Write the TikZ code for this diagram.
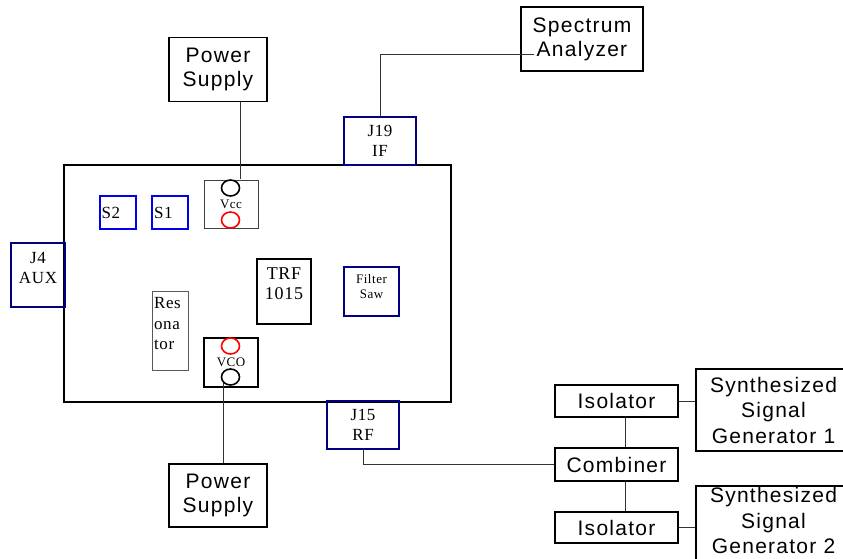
\documentclass[tikz,border=0pt]{standalone}
\usepackage{fontspec}
\setmainfont[LetterSpace=4]{Liberation Serif}
\setsansfont[LetterSpace=6]{Liberation Sans}
\usetikzlibrary{shapes.geometric}
\definecolor{jacknavy}{RGB}{0,0,128}
\definecolor{switchblue}{RGB}{0,0,235}

\begin{document}
\begin{tikzpicture}[x=1pt, y=-1pt]
    % Set up styles for boxes and wires
    \tikzstyle{instrument} = [draw, line width=1.2pt, inner sep=0pt, align=center,
        font=\sffamily\fontsize{21}{24}\selectfont]
    \tikzstyle{jack} = [draw=jacknavy, line width=2pt, inner sep=0pt, align=center,
        font=\fontsize{17}{20}\selectfont]
    \tikzstyle{switchbox} = [draw=switchblue, line width=2pt, inner xsep=2pt, inner ysep=0pt,
        text width=32pt, align=left, minimum height=33pt, font=\fontsize{17}{20}\selectfont]
    \tikzstyle{chip} = [draw, line width=2pt, inner sep=0pt, align=center]
    \tikzstyle{hole} = [draw, ellipse, line width=1.6pt, inner sep=0pt,
        minimum width=18pt, minimum height=16pt]
    \tikzstyle{wire} = [draw=black!80, line width=0.8pt]

    \useasboundingbox (0,0) rectangle (843,558);

    % The board
    \node[draw, line width=1.8pt, minimum width=387pt, minimum height=237pt] (board) at (257.5,283.5) {};

    % Parts on the board
    \node[switchbox] (stwo) at (117.5,212.5) {S2};
    \node[switchbox] (sone) at (170,212.5) {S1};
    \node[draw=black!65, line width=0.8pt, inner xsep=2pt, inner ysep=0pt, text width=32pt,
        align=left, minimum height=79pt, text depth=55pt,
        font=\fontsize{17}{20.5}\selectfont] (reson) at (170,330.5) {Res\\ona\\tor};
    \node[draw=black!75, line width=0.8pt, minimum width=54pt, minimum height=48pt,
        inner sep=0pt, font=\fontsize{13}{15}\selectfont] (vcc) at (231,204) {Vcc};
    \node[hole] (vcctop) at (230.5,188) {};
    \node[hole, draw=red] (vccbot) at (230.5,220) {};
    \node[chip, minimum width=54pt, minimum height=49pt,
        font=\fontsize{13}{15}\selectfont] (vco) at (231,362.5) {VCO};
    \node[hole, draw=red] (vcotop) at (230.5,346) {};
    \node[hole] (vcobot) at (230.5,377) {};
    \node[chip, minimum width=54pt, minimum height=65pt, text depth=16pt,
        font=\fontsize{18}{20}\selectfont] (trf) at (284,291.5) {TRF\\1015};
    \node[jack, minimum width=55pt, minimum height=49pt, text depth=10pt,
        font=\fontsize{13}{15}\selectfont] (saw) at (371.5,291.5) {Filter\\Saw};

    % Jacks on the edge of the board
    \node[jack, minimum width=54pt, minimum height=64pt, text depth=15pt] (jaux) at (38,275) {J4\\AUX};
    \node[jack, minimum width=72pt, minimum height=48pt] (jif) at (380,141) {J19\\IF};
    \node[jack, minimum width=72pt, minimum height=48pt] (jrf) at (363,425) {J15\\RF};

    % Instruments
    \node[instrument, minimum width=98pt, minimum height=64pt] (supplytop) at (218,69.5) {Power\\Supply};
    \node[instrument, minimum width=98pt, minimum height=63pt] (supplybot) at (218,495.5) {Power\\Supply};
    \node[instrument, minimum width=122pt, minimum height=64pt] (analyzer) at (582,39) {Spectrum\\Analyzer};
    \node[instrument, minimum width=123pt, minimum height=32pt] (isoa) at (616.5,401) {Isolator};
    \node[instrument, minimum width=123pt, minimum height=33pt] (comb) at (616.5,464.5) {Combiner};
    \node[instrument, minimum width=123pt, minimum height=31pt] (isob) at (616.5,527.5) {Isolator};
    \node[instrument, minimum width=155pt, minimum height=82pt,
        font=\sffamily\fontsize{21}{25.5}\selectfont] (gena) at (773.5,410) {Synthesized\\Signal\\Generator 1};
    \node[instrument, minimum width=155pt, minimum height=82pt, text depth=13pt,
        font=\sffamily\fontsize{21}{25.5}\selectfont] (genb) at (773.5,527) {Synthesized\\Signal\\Generator 2};

    % Wires
    \draw[wire] (supplytop.south -| vcctop.east) -- (vcctop.east |- vcctop.north);
    \draw[wire] (vcobot.south west) -- (vcobot.south west |- supplybot.north);
    \coordinate (sain) at ([xshift=14pt,yshift=-15pt]analyzer.west);
    \draw[wire] (jif.north) |- (sain);
    \draw[wire] (jrf.south) |- (comb.west);
    \draw[wire] ([xshift=9pt]isoa.south) -- ([xshift=9pt]comb.north);
    \draw[wire] ([xshift=9pt]comb.south) -- ([xshift=9pt]isob.north);
    \draw[wire] (isoa.east) -- (isoa.east -| gena.west);
    \draw[wire] (isob.east) -- (isob.east -| genb.west);

\end{tikzpicture}
\end{document}
